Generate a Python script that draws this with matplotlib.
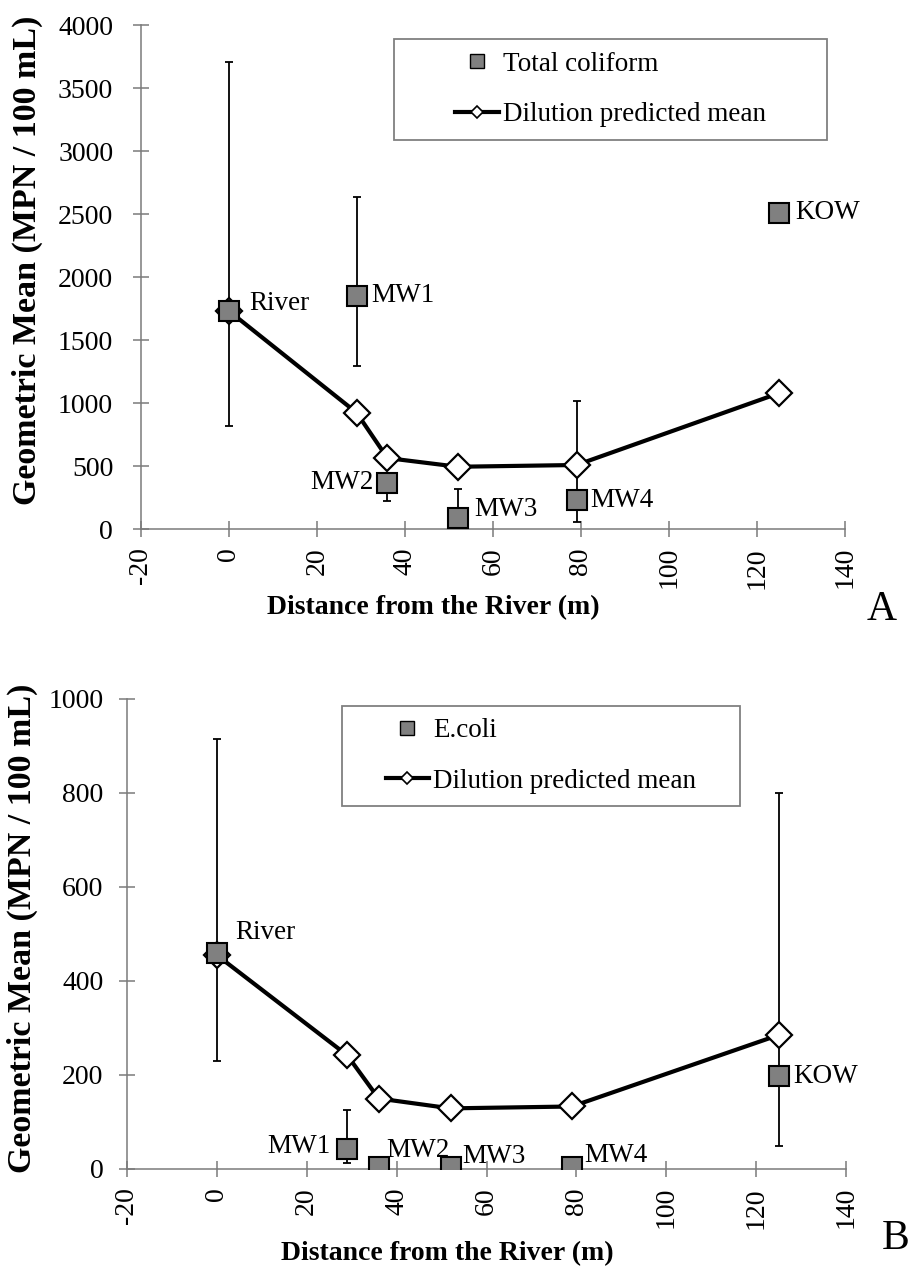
import matplotlib
matplotlib.use("Agg")
import matplotlib.pyplot as plt
from matplotlib.lines import Line2D
from matplotlib.patches import Rectangle
import numpy as np

plt.rcParams['font.family'] = ['Liberation Serif', 'DejaVu Serif']
plt.rcParams['axes.unicode_minus'] = False

# ---------------------------------------------------------------------------
# data
sites = ['River', 'MW1', 'MW2', 'MW3', 'MW4', 'KOW']
distance = [0, 29, 36, 52, 79, 125]

# panel A: total coliform (MPN / 100 mL)
tc_mean = [1730, 1850, 368, 88, 230, 2510]
tc_low = [820, 1296, 225, 88, 56, 2510]
tc_high = [3704, 2637, 368, 320, 1018, 2510]
tc_dilution = [1730, 923, 563, 494, 508, 1078]

# panel B: E. coli (MPN / 100 mL)
ec_mean = [460, 42, 5, 5, 5, 197]
ec_low = [230, 13, 5, 5, 5, 48]
ec_high = [915, 125, 5, 5, 5, 800]
ec_dilution = [455, 242, 150, 129, 133, 285]

x_ticks = [-20, 0, 20, 40, 60, 80, 100, 120, 140]

W, H = 911, 1268
GRAY = '#808080'
AXGRAY = '#7a7a7a'


def fx(px):
    return px / W


def fy(py):
    return 1 - py / H


def draw_panel(ax, mean, low, high, dilution, yticks, label_offsets, ypad):
    mean = np.array(mean)
    yerr = [mean - np.array(low), np.array(high) - mean]
    ax.errorbar(distance, mean, yerr=yerr, fmt='none', ecolor='black',
                elinewidth=1.3, capsize=3, capthick=1.3, zorder=2)
    ax.plot(distance, dilution, color='black', lw=3, marker='D', ms=13,
            mfc='white', mec='black', mew=1.6, zorder=3)
    ax.plot(distance, mean, ls='none', marker='s', ms=14, mfc=GRAY,
            mec='black', mew=1.5, zorder=4)

    for name, x, y in zip(sites, distance, mean):
        dx, dy, ha = label_offsets[name]
        ax.annotate(name, (x, y), xytext=(dx, dy), textcoords='offset pixels',
                    ha=ha, va='center', fontsize=19.5, zorder=5)

    ax.set_xlim(-20, 140)
    ax.set_ylim(yticks[0], yticks[-1])
    ax.set_xticks(x_ticks)
    ax.set_yticks(yticks)
    for s in ('top', 'right'):
        ax.spines[s].set_visible(False)
    for s in ('left', 'bottom'):
        ax.spines[s].set_color(AXGRAY)
        ax.spines[s].set_linewidth(1.1)
    ax.tick_params(direction='inout', length=12, width=1.1, color=AXGRAY,
                   labelsize=20)
    ax.tick_params(axis='x', labelrotation=90, pad=7)
    ax.tick_params(axis='y', pad=ypad)
    ax.patch.set_visible(False)


def draw_legend(fig, label, box):
    x0, y0, x1, y1 = box
    fig.patches.append(Rectangle((fx(x0), fy(y1)), fx(x1 - x0), (y1 - y0) / H,
                                 transform=fig.transFigure, fill=False,
                                 edgecolor=GRAY, lw=1.3))
    handles = [
        Line2D([], [], ls='none', marker='s', ms=10.5, mfc=GRAY, mec='black', mew=1.0),
        Line2D([], [], color='black', lw=3, marker='D', ms=6.5, mfc='white',
               mec='black', mew=1.2),
    ]
    fig.legend(handles, [label, 'Dilution predicted mean'], loc='center',
               bbox_to_anchor=(fx((x0 + x1) / 2), fy((y0 + y1) / 2)),
               frameon=False, fontsize=19.5, handlelength=1.6,
               handletextpad=0.15, labelspacing=0.95, borderpad=0)


fig = plt.figure(figsize=(W / 100, H / 100), dpi=100)

# ---------------------------------------------------------------------------
# panel A
axA = fig.add_axes([fx(141), fy(529), fx(845 - 141), (529 - 25) / H])
offsets_A = {
    'River': (20, 8, 'left'), 'MW1': (15, 0, 'left'), 'MW2': (-14, 0, 'right'),
    'MW3': (16, 8, 'left'), 'MW4': (14, 0, 'left'), 'KOW': (16, 0, 'left'),
}
draw_panel(axA, tc_mean, tc_low, tc_high, tc_dilution,
           list(range(0, 4001, 500)), offsets_A, 14)
draw_legend(fig, 'Total coliform', (394, 39, 827, 140))
fig.text(fx(27), fy(260), 'Geometric Mean (MPN / 100 mL)', rotation=90,
         ha='center', va='center', fontsize=24.5, fontweight='bold')
fig.text(fx(433), fy(608), 'Distance from the River (m)', ha='center',
         va='center', fontsize=20, fontweight='bold')
fig.text(fx(882), fy(610), 'A', ha='center', va='center', fontsize=30)

# ---------------------------------------------------------------------------
# panel B
axB = fig.add_axes([fx(127), fy(1169), fx(846 - 127), (1169 - 699) / H])
offsets_B = {
    'River': (18, 20, 'left'), 'MW1': (-17, 3, 'right'), 'MW2': (8, 16, 'left'),
    'MW3': (12, 10, 'left'), 'MW4': (12, 11, 'left'), 'KOW': (15, 0, 'left'),
}
draw_panel(axB, ec_mean, ec_low, ec_high, ec_dilution,
           list(range(0, 1001, 200)), offsets_B, 11)
draw_legend(fig, 'E.coli', (342, 706, 740, 806))
fig.text(fx(22), fy(928), 'Geometric Mean (MPN / 100 mL)', rotation=90,
         ha='center', va='center', fontsize=24.5, fontweight='bold')
fig.text(fx(447), fy(1254), 'Distance from the River (m)', ha='center',
         va='center', fontsize=20, fontweight='bold')
fig.text(fx(896), fy(1239), 'B', ha='center', va='center', fontsize=30)

fig.savefig('out.png', dpi=100)
